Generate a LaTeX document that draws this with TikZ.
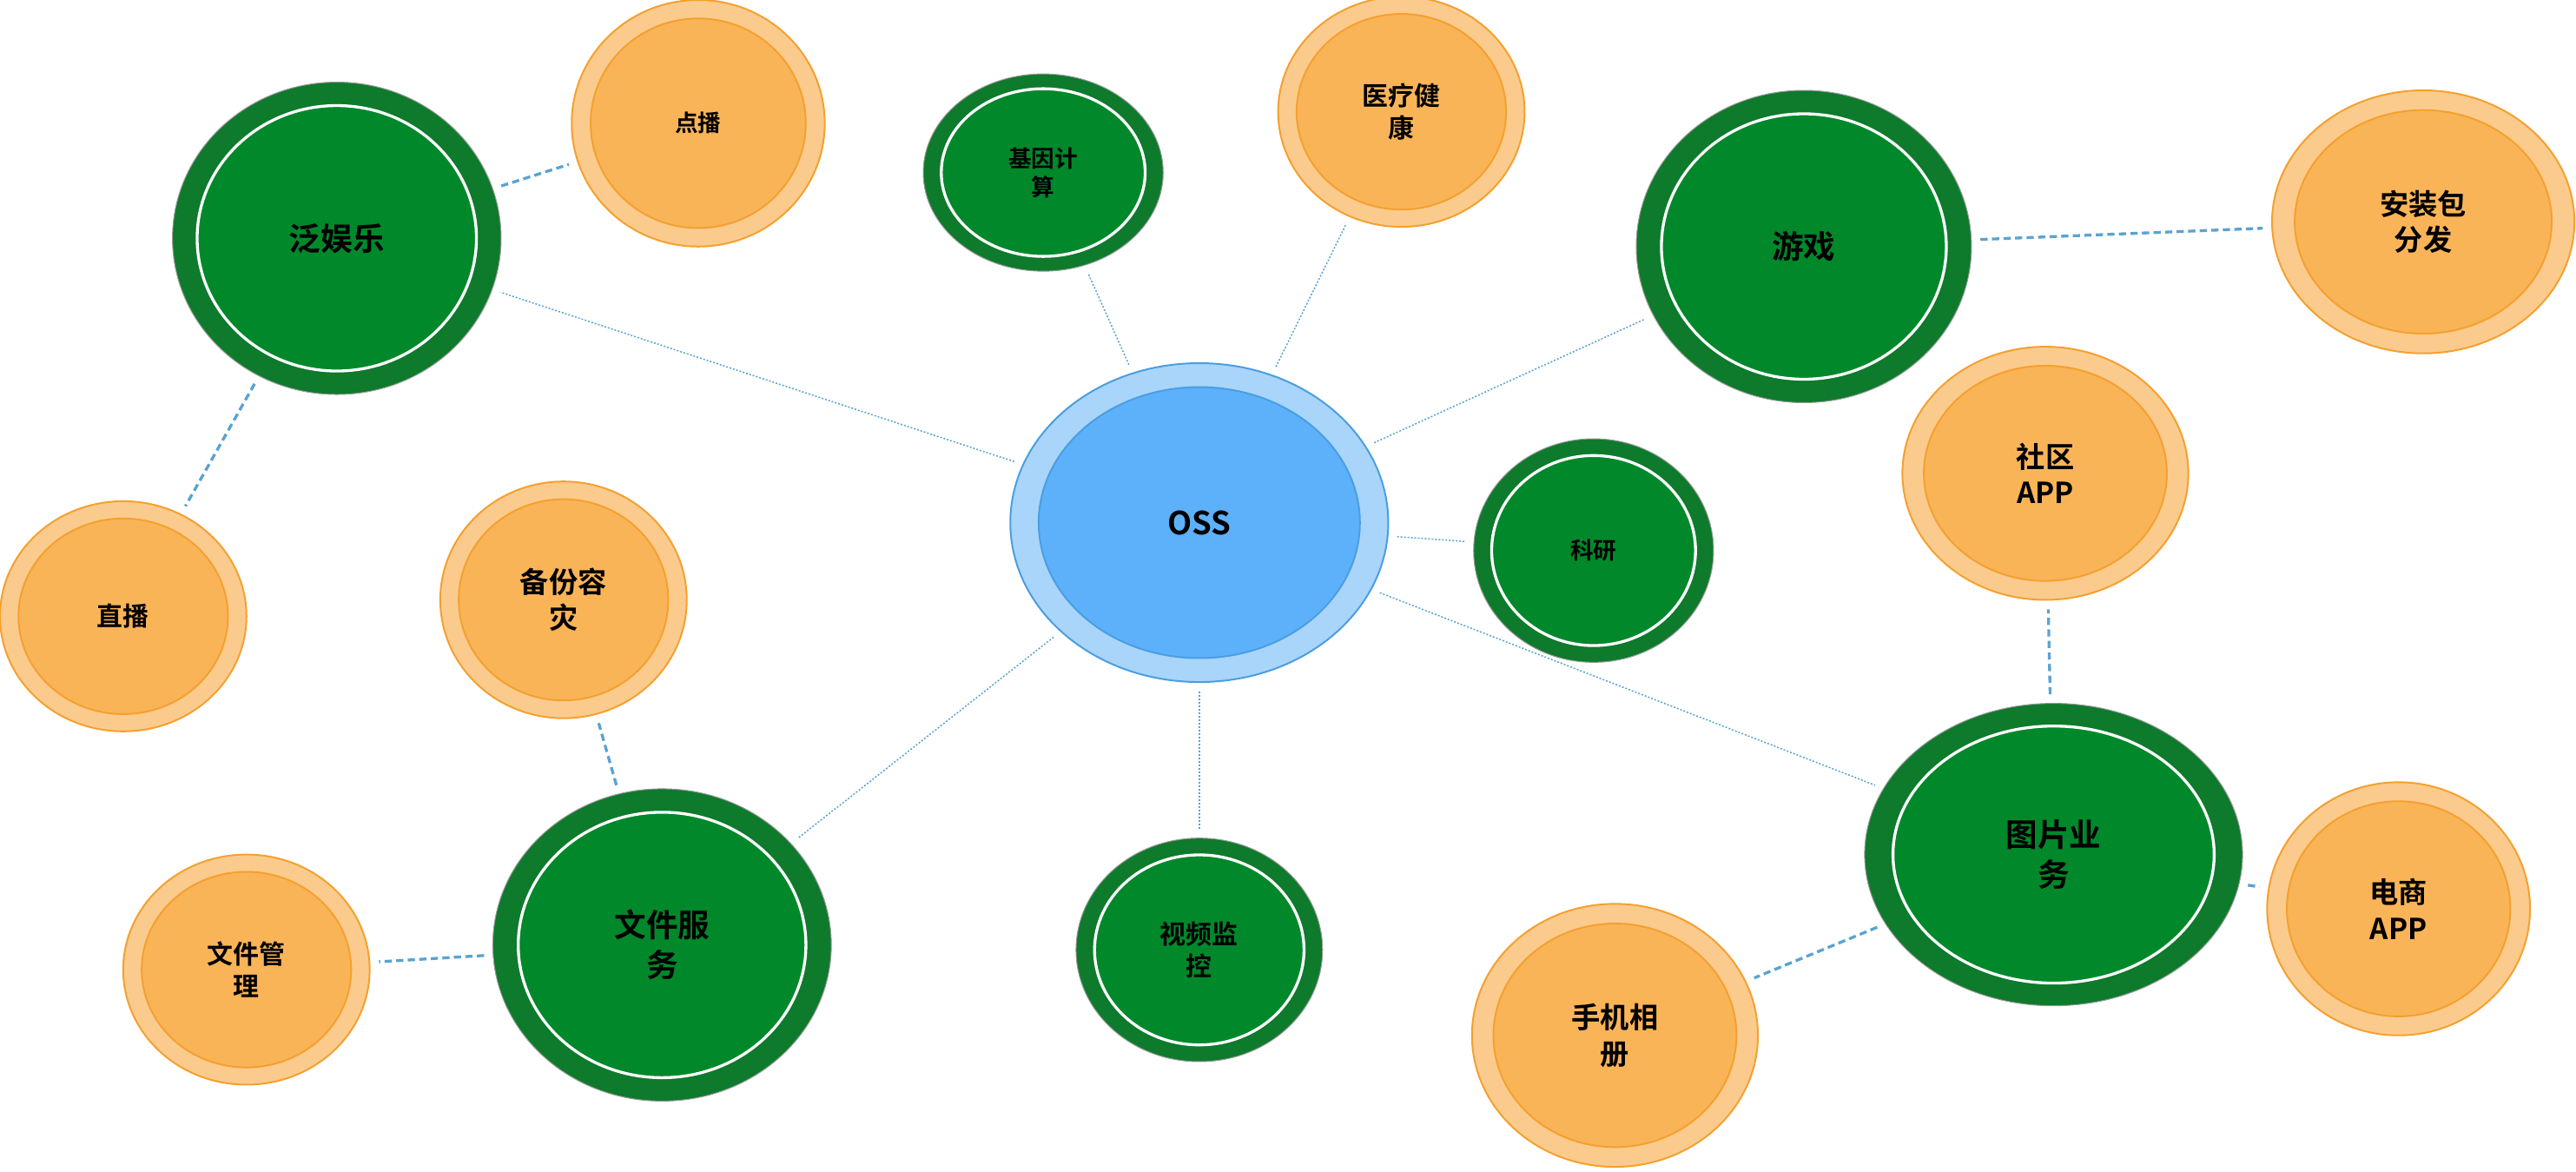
\documentclass[tikz,border=0pt]{standalone}
\usepackage{fontspec}
\setmainfont{Noto Sans CJK SC}[BoldFont={* Bold}]
\usetikzlibrary{shapes.geometric}
\definecolor{grOut}{HTML}{0E7A2C}
\definecolor{grIn}{HTML}{00882B}
\definecolor{orOut}{HTML}{FBCB8E}
\definecolor{orLine}{HTML}{F5A02E}
\definecolor{orIn}{HTML}{FAB458}
\definecolor{blOut}{HTML}{A9D5FA}
\definecolor{blLine}{HTML}{4A9EE0}
\definecolor{blIn}{HTML}{5DB1FB}
\definecolor{link}{HTML}{5BA3D0}
\tikzset{
  ring/.style={ellipse,inner sep=0pt},
  green out/.style={ring,fill=grOut,draw=black!40,line width=0.6pt},
  green in/.style={ring,fill=grIn,draw=white,line width=2pt,text=black},
  orange out/.style={ring,fill=orOut,draw=orLine,line width=1.2pt},
  orange in/.style={ring,fill=orIn,draw=orLine,line width=1.2pt,text=black},
  blue out/.style={ring,fill=blOut,draw=blLine,line width=1.2pt},
  blue in/.style={ring,fill=blIn,draw=blLine,line width=1.2pt,text=black},
  thin link/.style={link,line width=0.9pt,dash pattern=on 1.2pt off 1.2pt,shorten <=6pt,shorten >=6pt},
  thick link/.style={link,line width=2pt,dash pattern=on 5pt off 3pt,shorten <=6pt,shorten >=6pt}
}
% \bubble{name}{position}{rx}{ry}{kind}{size}{text}
\newcommand{\bubble}[7]{%
  \node[#5 out,minimum width=#3*0.08cm,minimum height=#4*0.08cm] (#1) at #2 {};
  \node[#5 in,minimum width=#3*0.068cm,minimum height=#4*0.068cm,align=center,
        font=\bfseries\fontsize{#6pt}{\dimexpr#6pt*5/4\relax}\selectfont] (#1-in) at #2 {#7};}
\begin{document}
\begin{tikzpicture}[x=0.04cm,y=-0.04cm]
    \useasboundingbox (0,0) rectangle (1568,713);

    % bubbles
    \bubble{oss}{(730,318)}{115}{97}{blue}{22}{OSS}
    \bubble{fyl}{(205,145)}{100}{95}{green}{22}{泛娱乐}
    \bubble{db}{(425,75)}{77}{75}{orange}{16}{点播}
    \bubble{zb}{(75,375)}{75}{70}{orange}{18}{直播}
    \bubble{jy}{(635,105)}{73}{60}{green}{16}{基因计\\算}
    \bubble{yl}{(853,68)}{75}{70}{orange}{18}{医疗健\\康}
    \bubble{yx}{(1098,150)}{102}{95}{green}{22}{游戏}
    \bubble{az}{(1475,135)}{92}{80}{orange}{20}{安装包\\分发}
    \bubble{ky}{(970,335)}{73}{68}{green}{16}{科研}
    \bubble{sq}{(1245,288)}{87}{77}{orange}{20}{社区\\APP}
    \bubble{bf}{(343,365)}{75}{72}{orange}{20}{备份容\\灾}
    \bubble{wj}{(403,575)}{103}{95}{green}{22}{文件服\\务}
    \bubble{gl}{(150,590)}{75}{70}{orange}{18}{文件管\\理}
    \bubble{sp}{(730,578)}{75}{68}{green}{18}{视频监\\控}
    \bubble{tp}{(1250,520)}{115}{92}{green}{22}{图片业\\务}
    \bubble{ds}{(1460,553)}{80}{77}{orange}{20}{电商\\APP}
    \bubble{sj}{(983,630)}{87}{80}{orange}{20}{手机相\\册}

    % thin links from the hub
    \foreach \t in {fyl,jy,yl,yx,ky,tp,sp,wj}
        \draw[thin link] (oss) -- (\t);

    % thick links
    \draw[thick link] (fyl) -- (db);
    \draw[thick link] (fyl) -- (zb);
    \draw[thick link] (yx) -- (az);
    \draw[thick link] (tp) -- (sq);
    \draw[thick link] (tp) -- (ds);
    \draw[thick link] (tp) -- (sj);
    \draw[thick link] (wj) -- (bf);
    \draw[thick link] (wj) -- (gl);
\end{tikzpicture}
\end{document}
